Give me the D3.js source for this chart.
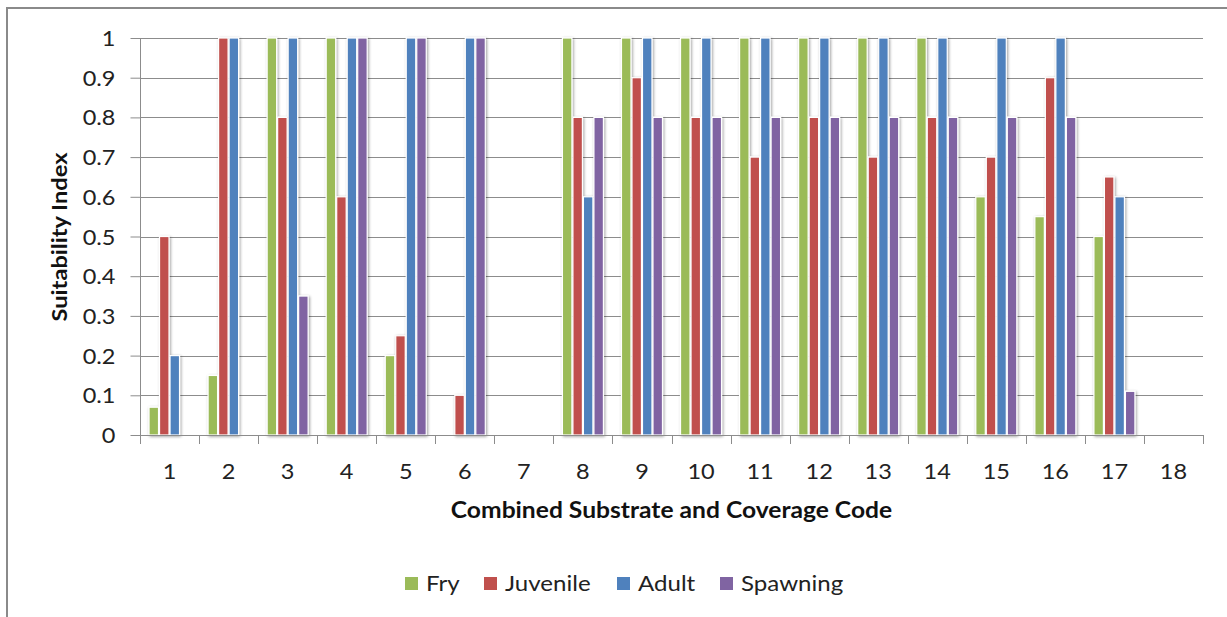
<!DOCTYPE html>
<html><head><meta charset="utf-8">
<script src="https://cdn.jsdelivr.net/npm/d3@7/dist/d3.min.js"></script>
<style>html,body{margin:0;padding:0;background:#fff;}svg{display:block;font-family:Lato,"Open Sans",sans-serif;}</style>
</head><body>
<svg id="c" width="1227" height="617"></svg>
<script>
const categories = ["1","2","3","4","5","6","7","8","9","10","11","12","13","14","15","16","17","18"];
const seriesNames = ["Fry","Juvenile","Adult","Spawning"];
const fry      = [0.07,0.15,1,1,0.2,0,0,1,1,1,1,1,1,1,0.6,0.55,0.5,0];
const juvenile = [0.5,1,0.8,0.6,0.25,0.1,0,0.8,0.9,0.8,0.7,0.8,0.7,0.8,0.7,0.9,0.65,0];
const adult    = [0.2,1,1,1,1,1,0,0.6,1,1,1,1,1,1,1,1,0.6,0];
const spawning = [0,0,0.35,1,1,1,0,0.8,0.8,0.8,0.8,0.8,0.8,0.8,0.8,0.8,0.11,0];
const yTicks = [0,0.1,0.2,0.3,0.4,0.5,0.6,0.7,0.8,0.9,1];
const colors = ["#9BBB59","#C0504D","#4F81BD","#8064A2"];
const seriesValues = [fry, juvenile, adult, spawning];

const svg = d3.select("#c");
const L = 140, R = 1203, T = 38, B = 435;
const FONT = "Lato, 'Open Sans', sans-serif";
const SX = 1.12;
const x = d3.scaleBand().domain(categories).range([L, R]).paddingInner(0).paddingOuter(0);
const y = d3.scaleLinear().domain([0,1]).range([B, T]);
const bw = x.bandwidth();
const groupW = 42;
const xs = d3.scaleBand().domain(seriesNames).range([(bw-groupW)/2, (bw+groupW)/2]).paddingInner(0);

const defs = svg.append("defs");
const f = defs.append("filter").attr("id","sh").attr("x","-50%").attr("y","-10%").attr("width","200%").attr("height","120%");
f.append("feGaussianBlur").attr("in","SourceAlpha").attr("stdDeviation",1.8).attr("result","b");
f.append("feOffset").attr("in","b").attr("dx",1).attr("dy",1).attr("result","o");
f.append("feComponentTransfer").attr("in","o").attr("result","o2").append("feFuncA").attr("type","linear").attr("slope",0.4);
const m = f.append("feMerge"); m.append("feMergeNode").attr("in","o2"); m.append("feMergeNode").attr("in","SourceGraphic");

svg.append("path").attr("d","M7,630 L7,8 L1240,8").attr("fill","none").attr("stroke","#8a8a8a").attr("stroke-width",2);

svg.append("g").selectAll("line").data(yTicks.filter(d=>d>0)).join("line")
  .attr("x1",L).attr("x2",R).attr("y1",d=>Math.round(y(d))+0.5).attr("y2",d=>Math.round(y(d))+0.5)
  .attr("stroke","#8c8c8c").attr("stroke-width",1);

const ya = svg.append("g").attr("transform",`translate(${L+0.5},0)`)
  .call(d3.axisLeft(y).tickValues(yTicks).tickSize(10).tickPadding(0).tickFormat(d=>String(+d.toFixed(1))));
ya.select(".domain").attr("stroke","#8c8c8c").attr("d",`M0,${T}V${B}`);
ya.selectAll(".tick line").attr("stroke","#8c8c8c");
ya.selectAll(".tick text").attr("x",null).attr("dy",null)
  .attr("transform",`translate(-25,7.5) scale(${SX},1)`)
  .attr("font-size",21).attr("fill","#222").attr("font-family",FONT);

const bars = svg.append("g").attr("filter","url(#sh)");
categories.forEach((c,i)=>{
  seriesNames.forEach((s,j)=>{
    const v = seriesValues[j][i];
    if (v<=0) return;
    bars.append("rect")
      .attr("x", x(c)+xs(s)+0.5)
      .attr("y", y(v))
      .attr("width", xs.bandwidth()-1)
      .attr("height", y(0)-y(v))
      .attr("fill", colors[j])
      .attr("stroke","#fff").attr("stroke-width",1.2);
  });
});

const xa = svg.append("g").attr("transform",`translate(0,${B+0.5})`)
  .call(d3.axisBottom(x).tickSize(0).tickPadding(0));
xa.select(".domain").attr("stroke","#8c8c8c").attr("d",`M${L},0H${R}`);
xa.selectAll(".tick text").attr("y",null).attr("dy",null)
  .attr("transform",`translate(0,43) scale(${SX},1)`)
  .attr("font-size",21).attr("fill","#222").attr("font-family",FONT);
svg.append("g").selectAll("line").data(d3.range(categories.length+1)).join("line")
  .attr("x1",i=>Math.round(L+i*bw)+0.5).attr("x2",i=>Math.round(L+i*bw)+0.5)
  .attr("y1",B).attr("y2",B+9).attr("stroke","#8c8c8c");

svg.append("text").attr("transform",`translate(${(L+R)/2},518) scale(${SX},1)`).attr("text-anchor","middle")
  .attr("font-size",22).attr("font-weight","bold").attr("fill","#111")
  .attr("font-family",FONT).text("Combined Substrate and Coverage Code");
svg.append("text").attr("transform","translate(67,237) rotate(-90) scale(1.1,1)").attr("text-anchor","middle")
  .attr("font-size",21.5).attr("font-weight","bold").attr("fill","#111")
  .attr("font-family",FONT).text("Suitability Index");

const legX = [405,484,617,720];
const lg = svg.append("g");
seriesNames.forEach((s,j)=>{
  lg.append("rect").attr("x",legX[j]).attr("y",577).attr("width",13).attr("height",13).attr("fill",colors[j]);
  lg.append("text").attr("transform",`translate(${legX[j]+21},591) scale(${SX},1)`).attr("font-size",21.5).attr("fill","#222")
    .attr("font-family",FONT).text(s);
});
</script>
</body></html>
